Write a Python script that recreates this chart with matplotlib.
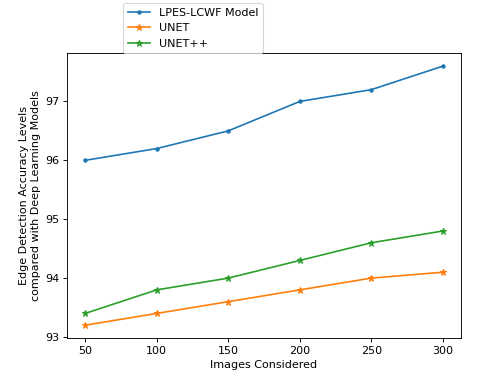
import matplotlib
matplotlib.use("Agg")
import matplotlib.pyplot as plt

images = [50, 100, 150, 200, 250, 300]
lpes = [96.0, 96.2, 96.5, 97.0, 97.2, 97.6]
unet = [93.2, 93.4, 93.6, 93.8, 94.0, 94.1]
unetpp = [93.4, 93.8, 94.0, 94.3, 94.6, 94.8]

# drawn at a larger size and saved at dpi 80 so text and lines come out scaled like the reference
fig = plt.figure(figsize=(6.0, 4.7125), dpi=80)
ax = fig.add_axes([0.140, 0.103, 0.820, 0.756])

ax.plot(images, lpes, marker='.', label='LPES-LCWF Model')
ax.plot(images, unet, marker='*', label='UNET')
ax.plot(images, unetpp, marker='*', label='UNET++')

ax.set_xlabel('Images Considered')
ax.set_ylabel('Edge Detection Accuracy Levels\ncompared with Deep Learning Models')
ax.set_xticks(images)
ax.set_yticks([93, 94, 95, 96, 97])

ax.legend(loc='lower left', bbox_to_anchor=(0.142, 1.0), borderaxespad=0)

fig.savefig('out.png', dpi=80)
